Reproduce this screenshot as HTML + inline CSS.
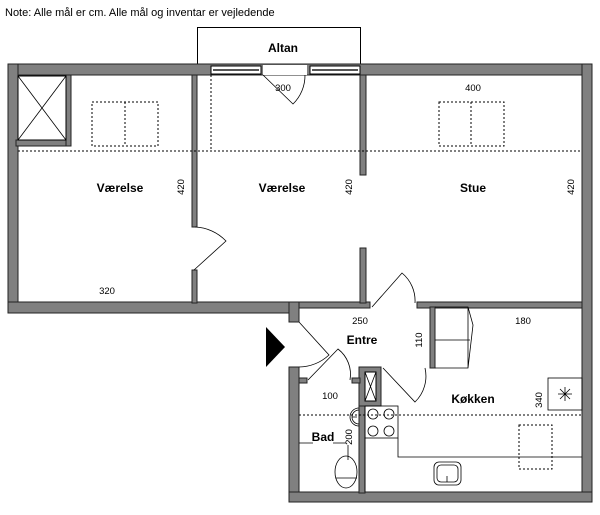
<!DOCTYPE html>
<html><head><meta charset="utf-8"><style>
body{margin:0;background:#fff;width:600px;height:510px;overflow:hidden}
svg text{font-family:"Liberation Sans",sans-serif;fill:#000}
</style></head><body>
<svg width="600" height="510" viewBox="0 0 600 510" xmlns="http://www.w3.org/2000/svg">
<text x="5" y="16" font-size="11">Note: Alle mål er cm. Alle mål og inventar er vejledende</text>
<!-- altan -->
<rect x="197.5" y="27.5" width="163" height="37" fill="none" stroke="#000" stroke-width="1"/>
<text x="283" y="52" font-size="12" font-weight="bold" text-anchor="middle">Altan</text>
<g fill="#808080" stroke="#222" stroke-width="1">
<!-- top wall -->
<rect x="8" y="64" width="584" height="11"/>
<!-- left wall -->
<rect x="8" y="64" width="10" height="249"/>
<!-- right wall -->
<rect x="582" y="64" width="10" height="438"/>
<!-- upper-left bottom -->
<rect x="8" y="302" width="291" height="11"/>
<!-- lower-left wall -->
<rect x="289" y="302" width="10" height="20"/>
<rect x="289" y="367" width="10" height="135"/>
<!-- bottom wall -->
<rect x="289" y="492" width="303" height="10"/>
<!-- entre top wall -->
<rect x="299" y="302" width="71" height="6"/>
<rect x="417" y="302" width="165" height="6"/>
<!-- wall v1/v2 -->
<rect x="192" y="75" width="5" height="152"/>
<rect x="192" y="270" width="5" height="33"/>
<!-- wall v2/stue -->
<rect x="360" y="75" width="6" height="100"/>
<rect x="360" y="248" width="6" height="55"/>
<!-- closet -->
<rect x="16" y="140" width="55" height="6"/>
<rect x="66" y="75" width="5" height="71"/>
<!-- entre/kitchen wall -->
<rect x="430" y="307" width="5" height="61"/>
<!-- bath/kitchen wall + shaft -->
<rect x="359" y="367" width="22" height="39"/>
<rect x="359" y="406" width="6" height="87"/>
<rect x="299" y="378" width="8" height="5"/>
<rect x="352" y="378" width="8" height="5"/>
</g>
<!-- closet X -->
<rect x="18" y="76" width="48" height="64" fill="#fff" stroke="#000"/>
<path d="M18 76 L66 140 M66 76 L18 140" stroke="#000" stroke-width="0.8"/>
<!-- shaft -->
<rect x="365" y="372" width="11" height="29" fill="#fff" stroke="#000"/>
<path d="M365 372 L376 401 M376 372 L365 401" stroke="#000" stroke-width="0.8"/>
<!-- windows -->
<g fill="#fff" stroke="#000" stroke-width="1">
<rect x="211" y="66" width="50" height="8"/>
<rect x="310" y="66" width="50" height="8"/>
<rect x="263" y="65" width="44" height="10" stroke="none"/>
</g>
<path d="M213 70 H259 M312 70 H358" stroke="#555" stroke-width="2"/>
<!-- balcony door -->
<path d="M263 75 L293 104 A 40 40 0 0 0 305 75" fill="none" stroke="#000" stroke-width="0.8"/>
<!-- dotted -->
<g fill="none" stroke="#000" stroke-width="1" stroke-dasharray="2,2">
<path d="M18 151 H582 M211 75 V151"/>
<rect x="92" y="102" width="66" height="44"/>
<path d="M125 102 V146"/>
<rect x="439" y="102" width="65" height="44"/>
<path d="M471 102 V146"/>
<path d="M299 415 H582"/>
<rect x="519" y="425" width="33" height="44"/>
</g>
<!-- doors -->
<g fill="none" stroke="#000" stroke-width="0.8">
<path d="M194 270 L226 241 A 45 45 0 0 0 195 227"/>
<path d="M372 307 L402 273 A 36 36 0 0 1 415 303"/>
<path d="M383 368 L415 402 A 36 36 0 0 0 425 368"/>
<path d="M299 322 L329 355 A 46 46 0 0 1 299 367"/>
<path d="M308 380 L338 349 A 32 32 0 0 1 350 380"/>
<!-- kitchen cabinet -->
<path d="M435 307 H468 L473 325 L468 368 H435 M435 340 H470 M468 307 V368"/>
<!-- fridge -->
<rect x="548" y="378" width="34" height="32"/>
<path d="M558 394 H572 M565 387 V401 M560 389 L570 399 M570 389 L560 399"/>
<!-- stove -->
<rect x="365" y="406" width="33" height="32"/>
<circle cx="373" cy="414" r="5"/><circle cx="389" cy="414" r="5"/>
<circle cx="373" cy="431" r="5"/><circle cx="389" cy="431" r="5"/>
<path d="M365 438 V492 M398 438 V457 H582"/>
<!-- sink -->
<rect x="434" y="462" width="27" height="23" rx="5"/>
<rect x="437" y="465" width="21" height="17" rx="4"/>
<path d="M447 476 V482"/>
<!-- bath sink -->
<path d="M359 408 A 9 9 0 1 0 359 426"/>
<path d="M359 410 A 7 7 0 1 0 359 424 M352 417 H357"/>
<!-- toilet -->
<ellipse cx="346" cy="472" rx="11" ry="16"/>
<path d="M336 478 H357"/>
<path d="M299 443 H313 M333 443 H346 M348 445 V460"/>
</g>
<!-- entry triangle -->
<path d="M266 327 L285 347 L266 367 Z" fill="#000"/>
<!-- labels -->
<g font-size="12" font-weight="bold" text-anchor="middle">
<text x="120" y="192">Værelse</text>
<text x="282" y="192">Værelse</text>
<text x="473" y="192">Stue</text>
<text x="362" y="344">Entre</text>
<text x="473" y="403">Køkken</text>
<text x="323" y="441">Bad</text>
</g>
<g font-size="9.5" text-anchor="middle">
<text x="283" y="91">300</text>
<text x="473" y="91">400</text>
<text x="107" y="294">320</text>
<text x="360" y="324">250</text>
<text x="523" y="324">180</text>
<text x="330" y="399">100</text>
<text transform="translate(184,187) rotate(-90)">420</text>
<text transform="translate(352,187) rotate(-90)">420</text>
<text transform="translate(574,187) rotate(-90)">420</text>
<text transform="translate(422,340) rotate(-90)">110</text>
<text transform="translate(542,400) rotate(-90)">340</text>
<text transform="translate(352,437) rotate(-90)">200</text>
</g>
</svg>
</body></html>
